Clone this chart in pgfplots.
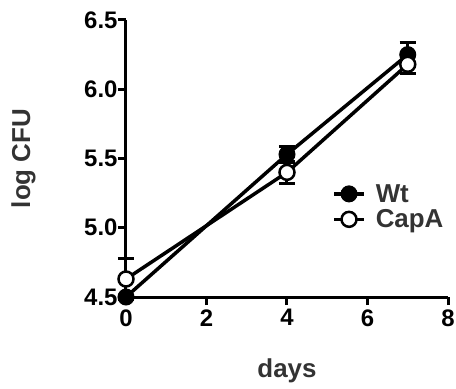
\documentclass[border=0pt]{standalone}
\usepackage{pgfplots}
\pgfplotsset{compat=1.18}
\usepackage{fontspec}
\setmainfont{Liberation Sans}
\definecolor{labgray}{HTML}{333333}
\begin{document}
\begin{tikzpicture}
\path[use as bounding box] (-126bp,-92bp) rectangle (330bp,297bp);
\begin{axis}[
  at={(0,0)}, anchor=south west,
  scale only axis, width=322bp, height=277bp,
  xmin=0, xmax=8, ymin=4.5, ymax=6.5,
  axis x line*=bottom, axis y line*=left,
  axis line style={line width=3bp, -},
  xtick={0,2,4,6,8}, ytick={4.5,5.0,5.5,6.0,6.5},
  yticklabels={4.5,5.0,5.5,6.0,6.5},
  tick style={line width=3bp, black},
  tick align=outside, major tick length=8bp,
  tick label style={font=\fontsize{24}{28}\selectfont\bfseries},
  /pgf/number format/assume math mode=true,
  xticklabel style={yshift=-1bp},
  yticklabel style={xshift=3bp},
  clip=false,
  xlabel={days}, ylabel={log CFU},
  xlabel style={at={(axis description cs:0.5,-0.268)}, anchor=center, font=\fontsize{26}{30}\selectfont\bfseries, text=labgray},
  ylabel style={at={(axis description cs:-0.318,0.50)}, anchor=center, font=\fontsize{26}{30}\selectfont\bfseries, text=labgray},
  legend style={draw=none, fill=none, at={(axis description cs:0.64,0.415)}, anchor=north west,
    font=\fontsize{26}{30}\selectfont\bfseries, text=labgray, inner sep=0pt, row sep=2bp, cells={anchor=west},
    /tikz/every odd column/.append style={column sep=8bp}},
  legend image code/.code={\draw[mark repeat=2,mark phase=2,#1] plot coordinates {(0bp,0bp)(15bp,0bp)(30bp,0bp)};},
  error bars/error bar style={line width=3bp, black},
  error bars/error mark options={rotate=90, mark size=8bp, line width=3bp},
]
\addplot[black, line width=3.5bp, mark=*, mark size=8bp, mark options={fill=black, line width=1bp},
  error bars/.cd, y dir=both, y explicit]
  coordinates {(0,4.50) +- (0,0.0) (4,5.53) +- (0,0.06) (7,6.25) +- (0,0.085)};
\addlegendentry{Wt}
\addplot[black, line width=3.5bp, mark=*, mark size=7.5bp, mark options={fill=white, line width=2.5bp},
  error bars/.cd, y dir=both, y explicit]
  coordinates {(0,4.63) +- (0,0.15) (4,5.40) +- (0,0.08) (7,6.18) +- (0,0.065)};
\addlegendentry{CapA}
\end{axis}
\end{tikzpicture}
\end{document}
